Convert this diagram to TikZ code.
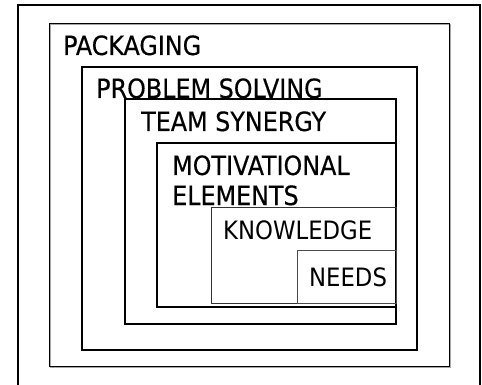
\documentclass[tikz,border=0pt]{standalone}
\usepackage{fontspec}
\setmainfont{DejaVu Sans Condensed}
\newfontfamily\heavyfont[FakeBold=0.4]{DejaVu Sans Condensed}
\begin{document}
\begin{tikzpicture}[x=1pt,y=-1pt,
		lvl/.style={anchor=base west,inner sep=0pt,font=\fontsize{25.3}{27}\selectfont},
		toplvl/.style={lvl,font=\heavyfont\fontsize{26.5}{28}\selectfont},
		frame/.style={line width=2pt,black}]
		\useasboundingbox (0,0) rectangle (482,385);
		% outer frame, open at the bottom
		\draw[frame] (18,395) -- (18,5) -- (480,5) -- (480,395);
		% nested levels
		\draw[gray!70,line width=1pt] (50,25) rectangle (450,367);
		\draw[line width=1pt] (49,24) rectangle (449,366);
		\draw[line width=1.8pt] (82,67) rectangle (417,350);
		\draw[line width=1.5pt] (125,99) rectangle (396,324);
		\draw[line width=1.5pt] (157,143) rectangle (396,307);
		\draw[line width=1pt,black!80] (211,207) rectangle (396,303);
		\draw[line width=0.8pt,black!70] (297,250) rectangle (396,303);
		% labels
		\node[toplvl] (packaging) at (63,55) {PACKAGING};
		\node[toplvl] (problem) at (96,98) {PROBLEM SOLVING};
		\node[toplvl] (team) at (141,131) {TEAM SYNERGY};
		\node[toplvl] (motiv) at (172,175) {MOTIVATIONAL};
		\node[toplvl] (elements) at (172,205) {ELEMENTS};
		\node[lvl] (knowledge) at (223,239) {KNOWLEDGE};
		\node[lvl] (needs) at (309,286) {NEEDS};
\end{tikzpicture}
\end{document}
